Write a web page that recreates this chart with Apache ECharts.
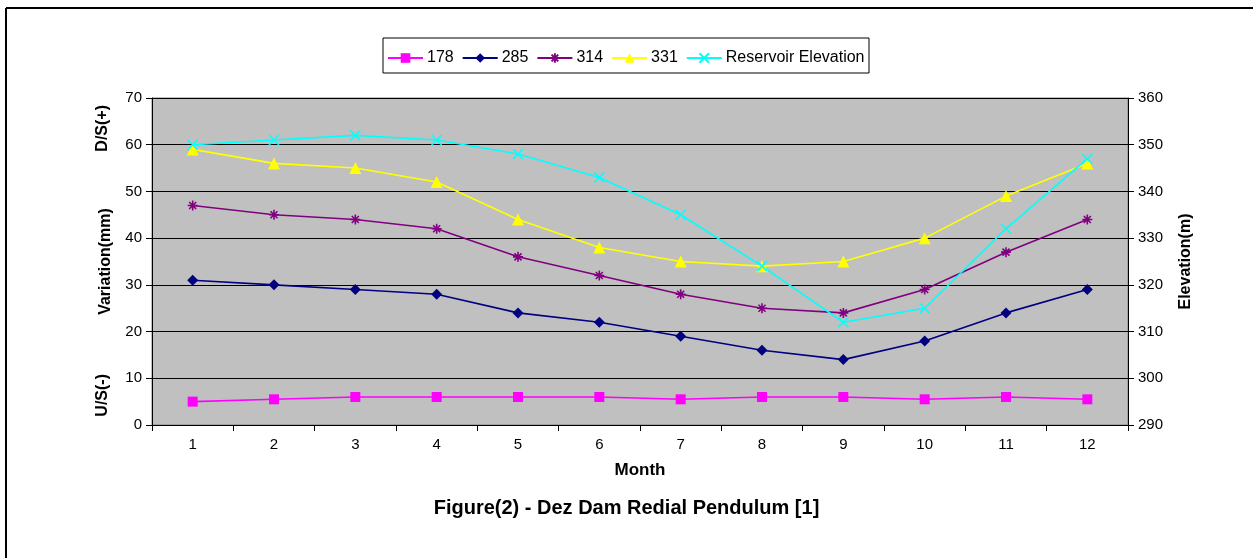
<!DOCTYPE html>
<html>
<head>
<meta charset="utf-8">
<script src="https://cdn.jsdelivr.net/npm/echarts@6/dist/echarts.min.js"></script>
<style>
  html, body { margin: 0; padding: 0; background: #fff; }
  #chart { width: 1253px; height: 558px; }
</style>
</head>
<body>
<div id="chart"></div>
<script>
// Dez Dam radial pendulum chart
var months = ['1', '2', '3', '4', '5', '6', '7', '8', '9', '10', '11', '12'];
var p178 = [5, 5.5, 6, 6, 6, 6, 5.5, 6, 6, 5.5, 6, 5.5];
var p285 = [31, 30, 29, 28, 24, 22, 19, 16, 14, 18, 24, 29];
var p314 = [47, 45, 44, 42, 36, 32, 28, 25, 24, 29, 37, 44];
var p331 = [59, 56, 55, 52, 44, 38, 35, 34, 35, 40, 49, 56];
var reservoir = [350, 351, 352, 351, 348, 343, 335, 324, 312, 315, 332, 347];

var font = 'Arial, "Liberation Sans", sans-serif';

// asterisk (star) and cross symbols
var starPath = 'path://M0,5 L10,5 M5,0 L5,10 M1.5,1.5 L8.5,8.5 M8.5,1.5 L1.5,8.5';
var crossPath = 'path://M0,0 L10,10 M10,0 L0,10';

function mkSeries(name, data, color, symbol, size, yIdx, hollow) {
  return {
    name: name,
    type: 'line',
    yAxisIndex: yIdx,
    data: data,
    symbol: symbol,
    symbolSize: size,
    showAllSymbol: true,
    lineStyle: { color: color, width: 1.6 },
    itemStyle: hollow
      ? { color: 'none', borderColor: color, borderWidth: 1.6 }
      : { color: color, borderColor: color, borderWidth: 0 },
    emphasis: { disabled: true },
    z: 3
  };
}

var chart = echarts.init(document.getElementById('chart'), null, { renderer: 'canvas' });

chart.setOption({
  animation: false,
  backgroundColor: '#fff',
  textStyle: { fontFamily: font },
  graphic: [
    { type: 'line', shape: { x1: 6, y1: 8, x2: 6, y2: 558 }, style: { stroke: '#000', lineWidth: 2 } },
    { type: 'line', shape: { x1: 6, y1: 8, x2: 1253, y2: 8 }, style: { stroke: '#000', lineWidth: 2 } },
    { type: 'rect', shape: { x: 383, y: 38, width: 486, height: 35 }, style: { fill: '#fff', stroke: '#000', lineWidth: 1 }, z: 0 },
    { type: 'text', left: 95, top: 105, rotation: Math.PI / 2, style: { text: 'D/S(+)', font: 'bold 16px ' + font, fill: '#000' } },
    { type: 'text', left: 95, top: 374, rotation: Math.PI / 2, style: { text: 'U/S(-)', font: 'bold 16px ' + font, fill: '#000' } },
    { type: 'text', left: 'center', top: 498, style: { text: 'Figure(2) - Dez Dam Redial Pendulum [1]', font: 'bold 20px ' + font, fill: '#000' } }
  ],
  legend: {
    top: 45,
    left: 382,
    itemGap: 8,
    itemWidth: 35,
    itemHeight: 12,
    textStyle: { color: '#000', fontSize: 16, fontFamily: font, padding: [0, 0, 0, -1] },
    data: ['178', '285', '314', '331', 'Reservoir Elevation']
  },
  grid: {
    left: 152,
    right: 125,
    top: 98,
    bottom: 133,
    show: true,
    backgroundColor: '#c0c0c0',
    borderColor: '#808080',
    borderWidth: 1
  },
  xAxis: {
    type: 'category',
    data: months,
    boundaryGap: true,
    name: 'Month',
    nameLocation: 'middle',
    nameGap: 37,
    nameTextStyle: { color: '#000', fontSize: 17, fontWeight: 'bold', fontFamily: font },
    axisLine: { lineStyle: { color: '#000', width: 1 } },
    axisTick: { show: true, inside: false, length: 6, lineStyle: { color: '#000' } },
    axisLabel: { color: '#000', fontSize: 15, margin: 12, fontFamily: font },
    splitLine: { show: false }
  },
  yAxis: [
    {
      type: 'value',
      min: 0,
      max: 70,
      interval: 10,
      name: 'Variation(mm)',
      nameLocation: 'middle',
      nameGap: 38,
      nameRotate: 90,
      nameTextStyle: { color: '#000', fontSize: 16, fontWeight: 'bold', fontFamily: font },
      axisLine: { show: true, lineStyle: { color: '#000', width: 1 } },
      axisTick: { show: true, length: 6, lineStyle: { color: '#000' } },
      axisLabel: { color: '#000', fontSize: 15, margin: 10, fontFamily: font },
      splitLine: { show: true, lineStyle: { color: '#000', width: 1 } }
    },
    {
      type: 'value',
      min: 290,
      max: 360,
      interval: 10,
      position: 'right',
      name: 'Elevation(m)',
      nameLocation: 'middle',
      nameGap: 50,
      nameRotate: 90,
      nameTextStyle: { color: '#000', fontSize: 16, fontWeight: 'bold', fontFamily: font },
      axisLine: { show: true, lineStyle: { color: '#000', width: 1 } },
      axisTick: { show: true, length: 6, lineStyle: { color: '#000' } },
      axisLabel: { color: '#000', fontSize: 15, margin: 10, fontFamily: font },
      splitLine: { show: false }
    }
  ],
  series: [
    mkSeries('178', p178, '#ff00ff', 'rect', 10, 0, false),
    mkSeries('285', p285, '#000080', 'diamond', 11, 0, false),
    mkSeries('314', p314, '#800080', starPath, 10, 0, true),
    mkSeries('331', p331, '#ffff00', 'triangle', 12, 0, false),
    mkSeries('Reservoir Elevation', reservoir, '#00ffff', crossPath, 10, 1, true)
  ]
});
</script>
</body>
</html>
